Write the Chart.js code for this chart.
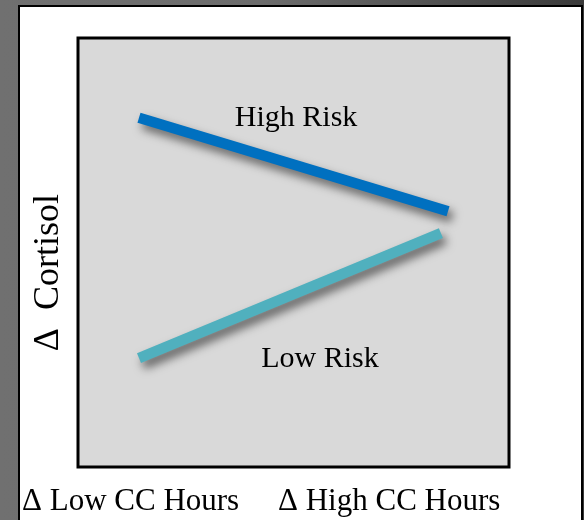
<!DOCTYPE html>
<html>
<head>
<meta charset="utf-8">
<script src="https://cdn.jsdelivr.net/npm/chart.js@4.4.1/dist/chart.umd.min.js"></script>
<style>
  html, body { margin: 0; padding: 0; }
  body { width: 584px; height: 520px; overflow: hidden; position: relative;
         background: linear-gradient(to right, #707070 0%, #6c6c6c 45%, #3a3a3a 100%); }
  #panel { position: absolute; left: 18px; top: 5px; width: 565px; height: 530px;
           box-sizing: border-box; background: #ffffff; border: 2px solid #000; }
  #c { position: absolute; left: 0; top: 0; }
</style>
</head>
<body>
<div id="panel"></div>
<canvas id="c" width="584" height="520"></canvas>
<script>
// ---- data ----
const xTickLabels = ['\u0394 Low CC Hours', '\u0394 High CC Hours'];
const xTickValues = [0.122, 0.722];
const seriesNames = ['High Risk', 'Low Risk'];
const highRiskX = [0.1415, 0.8585];
const highRiskY = [81.4, 59.6];
const lowRiskX = [0.1415, 0.842];
const lowRiskY = [25.4, 54.5];
const seriesLabelX = [0.506, 0.5615];
const seriesLabelY = [79.5, 23.3];
const yTitle = '\u0394\u00a0 Cortisol';
const seriesColors = ['#0070C0', '#50B0BE'];

const toPoints = (xs, ys) => xs.map((x, i) => ({ x: x, y: ys[i] }));

const plotFrame = {
  id: 'plotFrame',
  beforeDraw(chart) {
    const { ctx, chartArea: a } = chart;
    ctx.save();
    ctx.fillStyle = '#d9d9d9';
    ctx.fillRect(a.left, a.top, a.right - a.left, a.bottom - a.top);
    ctx.restore();
  },
  beforeDatasetsDraw(chart) {
    const ctx = chart.ctx;
    ctx.save();
    ctx.shadowColor = 'rgba(0,0,0,0.55)';
    ctx.shadowBlur = 10;
    ctx.shadowOffsetX = 4;
    ctx.shadowOffsetY = 6;
  },
  afterDatasetsDraw(chart) {
    chart.ctx.restore();
  },
  afterDraw(chart) {
    const { ctx, chartArea: a, scales } = chart;
    ctx.save();
    ctx.strokeStyle = '#000';
    ctx.lineWidth = 3;
    ctx.strokeRect(a.left, a.top, a.right - a.left, a.bottom - a.top);
    // series labels
    ctx.fillStyle = '#000';
    ctx.font = '30px "Liberation Serif", "Times New Roman", serif';
    ctx.textAlign = 'center';
    ctx.textBaseline = 'alphabetic';
    seriesNames.forEach((n, i) => {
      ctx.fillText(n, scales.x.getPixelForValue(seriesLabelX[i]), scales.y.getPixelForValue(seriesLabelY[i]));
    });
    // y axis title
    ctx.translate(58, scales.y.getPixelForValue(45.3));
    ctx.rotate(-Math.PI / 2);
    ctx.font = '36px "Liberation Serif", "Times New Roman", serif';
    ctx.fillText(yTitle, 0, 0);
    ctx.restore();
  }
};

new Chart(document.getElementById('c'), {
  type: 'line',
  data: {
    datasets: [
      { label: seriesNames[0], data: toPoints(highRiskX, highRiskY), borderColor: seriesColors[0],
        backgroundColor: seriesColors[0], borderWidth: 10.5, borderCapStyle: 'butt', pointRadius: 0, tension: 0 },
      { label: seriesNames[1], data: toPoints(lowRiskX, lowRiskY), borderColor: seriesColors[1],
        backgroundColor: seriesColors[1], borderWidth: 10.5, borderCapStyle: 'butt', pointRadius: 0, tension: 0 }
    ]
  },
  options: {
    responsive: false,
    animation: false,
    layout: { padding: { left: 78, right: 75, top: 38, bottom: 0 } },
    plugins: { legend: { display: false }, tooltip: { enabled: false } },
    scales: {
      x: {
        type: 'linear', min: 0, max: 1,
        grid: { display: false, drawTicks: false },
        border: { display: false },
        afterBuildTicks: (s) => { s.ticks = xTickValues.map(v => ({ value: v })); },
        afterFit: (s) => { s.height = 53; s.paddingLeft = 0; s.paddingRight = 0; },
        ticks: {
          autoSkip: false, maxRotation: 0, padding: 16, color: '#000',
          font: { family: '"Liberation Serif", "Times New Roman", serif', size: 31 },
          callback: (v) => { const i = xTickValues.indexOf(v); return i >= 0 ? xTickLabels[i] : ''; }
        }
      },
      y: { type: 'linear', min: 0, max: 100, display: false }
    }
  },
  plugins: [plotFrame]
});
</script>
</body>
</html>
